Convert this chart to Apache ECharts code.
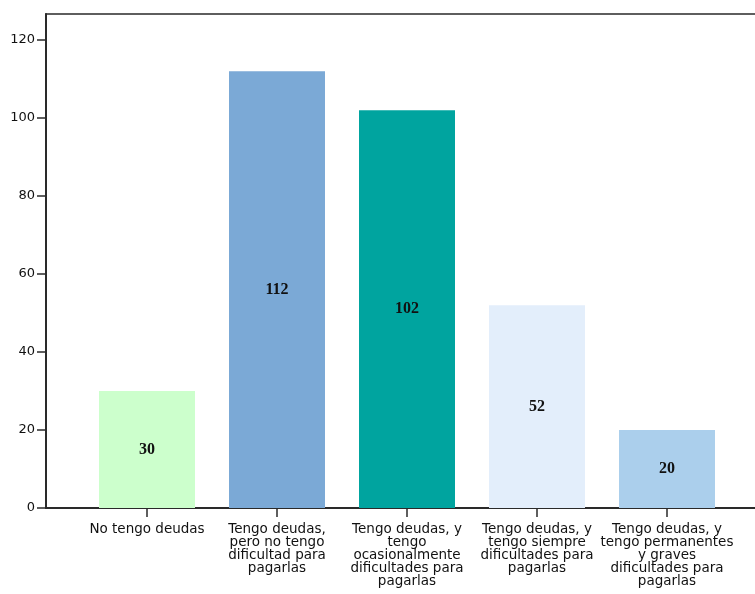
<!DOCTYPE html>
<html>
<head>
<meta charset="utf-8">
<script src="https://cdn.jsdelivr.net/npm/echarts@6/dist/echarts.min.js"></script>
<style>html,body{margin:0;padding:0;background:#fff;}#c{width:755px;height:594px;}</style>
</head>
<body>
<div id="c"></div>
<script>
const categories = [
  "No tengo deudas",
  "Tengo deudas,\npero no tengo\ndificultad para\npagarlas",
  "Tengo deudas, y\ntengo\nocasionalmente\ndificultades para\npagarlas",
  "Tengo deudas, y\ntengo siempre\ndificultades para\npagarlas",
  "Tengo deudas, y\ntengo permanentes\ny graves\ndificultades para\npagarlas"
];
const values = [30, 112, 102, 52, 20];
const barColors = ["#ccffcc", "#7ba9d6", "#00a49f", "#e3eefb", "#abcfec"];
const yTicks = [0, 20, 40, 60, 80, 100, 120];
const catPositions = [0, 1, 2, 3, 4];

const chart = echarts.init(document.getElementById('c'), null, {renderer: 'canvas'});
chart.setOption({
  backgroundColor: '#ffffff',
  animation: false,
  grid: {
    left: 46, top: 14, width: 722, bottom: 86,
    outerBoundsMode: 'none', containLabel: false,
    show: true, borderColor: '#2a2a2a', borderWidth: 1.5, backgroundColor: 'transparent'
  },
  xAxis: {
    type: 'value',
    min: -0.777, max: 4.777,
    splitLine: {show: false},
    axisLine: {show: true, onZero: false, lineStyle: {color: '#2a2a2a', width: 2}},
    axisTick: {show: true, customValues: catPositions, length: 9, lineStyle: {color: '#2a2a2a', width: 1.5}},
    axisLabel: {
      show: true, customValues: catPositions, margin: 15, hideOverlap: false,
      formatter: function (v) { return categories[Math.round(v)]; },
      fontFamily: 'DejaVu Sans', fontSize: 13.5, lineHeight: 13, color: '#111', align: 'center', verticalAlign: 'top'
    }
  },
  yAxis: {
    type: 'value',
    min: 0, max: 126.7,
    splitLine: {show: false},
    axisLine: {show: true, onZero: false, lineStyle: {color: '#2a2a2a', width: 2}},
    axisTick: {show: true, customValues: yTicks, length: 9, lineStyle: {color: '#2a2a2a', width: 1.5}},
    axisLabel: {
      show: true, customValues: yTicks, margin: 11,
      fontFamily: 'DejaVu Sans', fontSize: 13, color: '#111'
    }
  },
  series: [{
    type: 'bar',
    barWidth: 96,
    data: values.map(function (v, i) {
      return {value: [catPositions[i], v], itemStyle: {color: barColors[i]}};
    }),
    label: {
      show: true, position: 'inside',
      formatter: function (p) { return p.value[1]; },
      fontFamily: 'Liberation Serif', fontWeight: 'bold', fontSize: 16, color: '#111'
    }
  }]
});
</script>
</body>
</html>
